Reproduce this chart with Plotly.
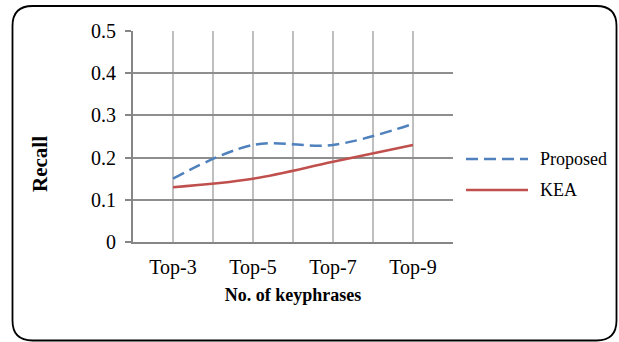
import plotly.graph_objects as go

categories = ["Top-3", "Top-5", "Top-7", "Top-9"]
proposed = [0.15, 0.23, 0.23, 0.28]
kea = [0.13, 0.15, 0.19, 0.23]
y_ticks = [0, 0.1, 0.2, 0.3, 0.4, 0.5]
y_ticktext = ["0", "0.1", "0.2", "0.3", "0.4", "0.5"]

W, H = 619, 342
L, R, T, B = 133, 166, 31, 100
PW, PH = W - L - R, H - T - B

FONT = "Liberation Serif"
BLUE = "#4F81BD"
RED = "#C0504D"
HGRID = "#8E8E8E"
VGRID = "#BFBFBF"
AXIS = "#868686"

xs = list(range(len(categories)))

fig = go.Figure()
fig.add_trace(go.Scatter(x=xs, y=proposed, mode="lines", name="Proposed",
                         line=dict(color=BLUE, width=2.5, dash="12px,6px", shape="spline", smoothing=1),
                         showlegend=False))
fig.add_trace(go.Scatter(x=xs, y=kea, mode="lines", name="KEA",
                         line=dict(color=RED, width=2.5, shape="spline", smoothing=1),
                         showlegend=False))

# x gridlines at every half category
xtickvals = [i * 0.5 - 0.5 for i in range(2 * len(categories) + 1)]
xticktext = []
for v in xtickvals:
    if abs(v - round(v)) < 1e-9 and 0 <= round(v) < len(categories):
        xticktext.append(categories[int(round(v))])
    else:
        xticktext.append("")

def px(x):
    return (x - L) / PW

def py(y):
    return (H - B - y) / PH

# rounded border
x0, x1, y0, y1, r = 12.5, 616.5, 6, 340.5, 20
path = (f"M {px(x0 + r)},{py(y0)} L {px(x1 - r)},{py(y0)} "
        f"Q {px(x1)},{py(y0)} {px(x1)},{py(y0 + r)} "
        f"L {px(x1)},{py(y1 - r)} Q {px(x1)},{py(y1)} {px(x1 - r)},{py(y1)} "
        f"L {px(x0 + r)},{py(y1)} Q {px(x0)},{py(y1)} {px(x0)},{py(y1 - r)} "
        f"L {px(x0)},{py(y0 + r)} Q {px(x0)},{py(y0)} {px(x0 + r)},{py(y0)} Z")

shapes = [dict(type="path", xref="paper", yref="paper", path=path,
               line=dict(color="black", width=1.8), layer="above")]

# custom legend
legend_items = [("Proposed", BLUE, "12px,6px", 159), ("KEA", RED, "solid", 190)]
annotations = []
for name, col, dash, yy in legend_items:
    shapes.append(dict(type="line", xref="paper", yref="paper",
                       x0=px(466), x1=px(528), y0=py(yy), y1=py(yy),
                       line=dict(color=col, width=2.5, dash=dash)))
    annotations.append(dict(xref="paper", yref="paper", x=px(538), y=py(yy),
                            text=name, showarrow=False, xanchor="left", yanchor="middle",
                            font=dict(family=FONT, size=18, color="black")))

# y-axis title (sits below the plot's vertical centre, as in the original)
annotations.append(dict(xref="paper", yref="paper", x=px(40), y=py(164),
                        text="<b>Recall</b>", textangle=-90, showarrow=False,
                        xanchor="center", yanchor="middle",
                        font=dict(family=FONT, size=21, color="black")))

fig.update_layout(
    width=W, height=H,
    margin=dict(l=L, r=R, t=T, b=B, pad=0),
    paper_bgcolor="white", plot_bgcolor="white",
    font=dict(family=FONT, size=20, color="black"),
    shapes=shapes, annotations=annotations,
    showlegend=False,
)
fig.update_xaxes(range=[-0.5, len(categories) - 0.5], tickmode="array",
                 tickvals=xtickvals, ticktext=xticktext,
                 showgrid=True, gridcolor=VGRID, gridwidth=2,
                 showline=True, linecolor=AXIS, linewidth=2, mirror=False,
                 ticks="", ticklabelstandoff=6, zeroline=False,
                 tickfont=dict(family=FONT, size=20),
                 title=dict(text="<b>No. of keyphrases</b>", font=dict(family=FONT, size=18), standoff=10))
fig.update_yaxes(range=[0, 0.5], tickmode="array", tickvals=y_ticks, ticktext=y_ticktext,
                 showgrid=True, gridcolor=HGRID, gridwidth=1.8,
                 showline=True, linecolor=AXIS, linewidth=2,
                 ticks="outside", ticklen=6, tickcolor=AXIS, tickwidth=1.5,
                 ticklabelstandoff=5, zeroline=False,
                 tickfont=dict(family=FONT, size=20))

fig.write_html("out.html", config={"displayModeBar": False},
               post_script="document.body.style.margin='0';document.body.style.overflow='hidden';")
